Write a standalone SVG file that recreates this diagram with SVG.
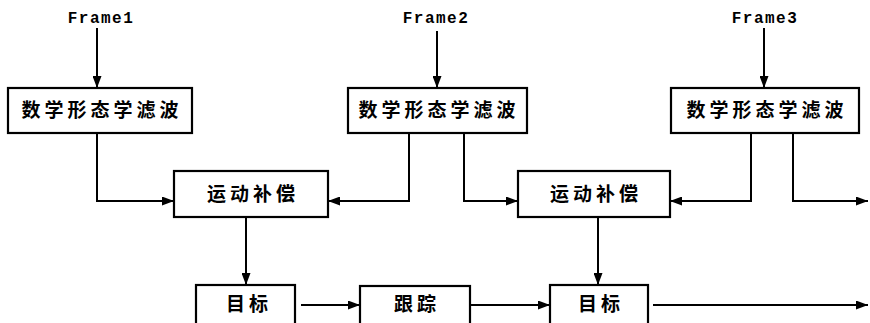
<svg xmlns="http://www.w3.org/2000/svg" width="870" height="323" viewBox="0 0 870 323">
<defs>
<marker id="ah" viewBox="0 0 12 9" refX="12" refY="4.5" markerWidth="12" markerHeight="9" markerUnits="userSpaceOnUse" orient="auto">
<path d="M0,0 L12,4.5 L0,9 Z" fill="#000"/>
</marker>
<style>
.box{fill:#fff;stroke:#000;stroke-width:2.2}
.cn{font-family:"Noto Sans CJK SC",sans-serif;font-size:19px;font-weight:bold;letter-spacing:4px;text-anchor:middle;fill:#000}
.fr{font-family:"Liberation Mono",monospace;font-size:16px;font-weight:bold;letter-spacing:1.5px;text-anchor:middle;fill:#000}
.ln{fill:none;stroke:#000;stroke-width:2;marker-end:url(#ah)}
</style>
</defs>
<rect width="870" height="323" fill="#fff"/>
<g id="labels">
<text class="fr" x="101" y="23">Frame1</text>
<text class="fr" x="436" y="23">Frame2</text>
<text class="fr" x="765" y="23">Frame3</text>
</g>
<g id="filter1"><rect class="box" x="8" y="88" width="184" height="45"/><text class="cn" x="102" y="117">数学形态学滤波</text></g>
<g id="filter2"><rect class="box" x="348" y="88" width="179" height="45"/><text class="cn" x="439" y="117">数学形态学滤波</text></g>
<g id="filter3"><rect class="box" x="671" y="88" width="188" height="45"/><text class="cn" x="767" y="117">数学形态学滤波</text></g>
<g id="mc1"><rect class="box" x="174" y="171" width="154" height="46"/><text class="cn" x="253" y="201">运动补偿</text></g>
<g id="mc2"><rect class="box" x="518" y="171" width="152" height="46"/><text class="cn" x="596" y="201">运动补偿</text></g>
<g id="target1"><rect class="box" x="196" y="285" width="99" height="50"/><text class="cn" x="249" y="311">目标</text></g>
<g id="track"><rect class="box" x="360" y="286" width="110" height="50"/><text class="cn" x="417" y="311">跟踪</text></g>
<g id="target2"><rect class="box" x="550" y="285" width="98" height="50"/><text class="cn" x="601" y="311">目标</text></g>
<g id="connectors">
<path class="ln" d="M97,28 V88"/>
<path class="ln" d="M437,31 V88"/>
<path class="ln" d="M764,28 V88"/>
<path class="ln" d="M97,133 V201 H174"/>
<path class="ln" d="M409,133 V201 H328"/>
<path class="ln" d="M464,133 V201 H518"/>
<path class="ln" d="M751,133 V201 H670"/>
<path class="ln" d="M793,133 V201 H868"/>
<path class="ln" d="M246,217 V285"/>
<path class="ln" d="M598,217 V285"/>
<path class="ln" d="M301,305 H360"/>
<path class="ln" d="M470,305 H550"/>
<path class="ln" d="M653,305 H868"/>
</g>
</svg>
